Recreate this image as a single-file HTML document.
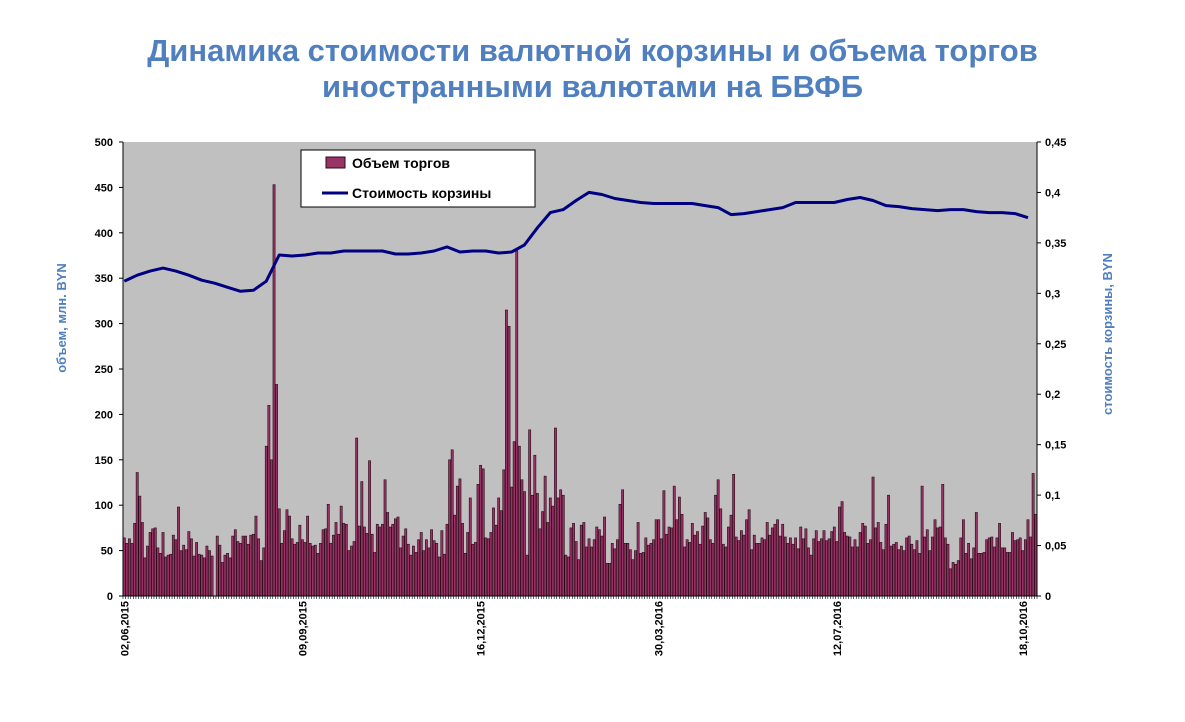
<!DOCTYPE html>
<html><head><meta charset="utf-8">
<style>
body{margin:0;background:#fff;width:1185px;height:722px;overflow:hidden;font-family:"Liberation Sans",Arial,sans-serif}
.title{position:absolute;left:0;width:1185px;text-align:center;color:#4F7FBF;font-weight:bold;font-size:31px;line-height:36px}
</style></head><body>
<div class="title" style="top:33px">Динамика стоимости валютной корзины и объема торгов<br>иностранными валютами на БВФБ</div>
<svg id="chart" width="1185" height="722" style="position:absolute;left:0;top:0"></svg>
<script>
const volumes=[64,58,63,58,80,136,110,81,42,55,70,74,75,53,47,70,43,45,46,67,62,98,50,56,51,71,63,44,59,46,45,42,55,50,44,0,66,56,37,45,47,42,66,73,60,58,66,66,57,67,68,88,63,39,53,165,210,150,453,233,96,58,72,95,88,63,57,59,78,62,59,88,58,55,56,47,58,73,74,101,58,67,81,68,99,80,79,50,55,60,174,
77,126,76,69,149,68,48,79,76,79,128,92,76,79,85,87,53,66,74,57,45,55,48,62,70,50,62,53,73,61,58,43,72,46,79,150,161,89,121,129,80,47,70,108,57,59,123,144,140,64,63,70,97,78,108,94,139,315,297,120,170,380,165,128,115,45,183,111,155,113,74,93,132,81,108,99,185,108,117,111,45,43,75,80,60,40,78,81,54,63,
54,62,76,73,66,87,36,36,58,52,62,101,117,58,58,51,40,50,81,47,48,64,56,58,62,84,84,63,116,68,76,75,121,84,109,90,54,62,59,80,67,71,57,77,92,86,62,58,111,128,96,57,54,76,89,134,65,61,72,67,84,95,51,67,58,58,64,62,81,67,75,79,84,66,79,65,58,64,57,64,52,76,63,74,53,45,63,72,60,63,72,
61,63,71,76,60,98,104,70,66,65,54,62,54,70,80,77,58,62,131,75,81,59,51,79,111,55,57,59,51,55,50,64,66,57,51,61,47,121,65,73,50,65,84,75,76,123,64,57,30,37,35,39,64,84,47,58,41,53,92,47,47,48,62,64,65,54,64,80,53,53,48,48,70,61,62,64,50,62,84,65,135,90];
const basketValues=[0.312,0.318,0.322,0.325,0.322,0.318,0.313,0.310,0.306,0.302,0.303,0.312,0.338,0.337,0.338,0.340,0.340,0.342,0.342,0.342,0.342,0.339,0.339,0.340,0.342,0.346,0.341,0.342,0.342,0.340,0.341,0.348,0.365,0.380,0.383,0.392,0.400,0.398,0.394,0.392,0.390,0.389,0.389,0.389,0.389,0.387,0.385,0.378,0.379,0.381,0.383,0.385,0.390,0.390,0.390,0.390,0.393,0.395,0.392,0.387,0.386,0.384,0.383,0.382,0.383,0.383,0.381,0.380,0.380,0.379,0.375];
const basketStep=5;
const leftTicks=[0,50,100,150,200,250,300,350,400,450,500];
const rightTicks=["0","0,05","0,1","0,15","0,2","0,25","0,3","0,35","0,4","0,45"];
const dateLabels=["02,06,2015","09,09,2015","16,12,2015","30,03,2016","12,07,2016","18,10,2016"];
const dateIdx=[0,69,138,207,276,348];

const svg=document.getElementById('chart');const NS='http://www.w3.org/2000/svg';
const X0=123,X1=1037,Y0=596,Y1=142;
const N=volumes.length,bw=(X1-X0)/N;
const xi=i=>X0+(i+0.5)*bw;
const yL=v=>Y0-v/500*(Y0-Y1);
const yR=v=>Y0-v/0.45*(Y0-Y1);
function mk(t,a,p){const e=document.createElementNS(NS,t);for(const k in a)e.setAttribute(k,a[k]);(p||svg).appendChild(e);return e;}
const bg=mk('rect',{x:X0,y:Y1,width:X1-X0,height:Y0-Y1,fill:'#C0C0C0'});


const bars=mk('g',{});


volumes.forEach((v,i)=>{const r=mk('rect',{x:X0+i*bw+0.2,y:yL(v),width:bw-0.4,height:Y0-yL(v),fill:'#993366',stroke:'#2a0a18','stroke-width':0.6},bars);

});
let d='';basketValues.forEach((v,k)=>{const i=Math.min(k*basketStep,N-1);d+=(k?'L':'M')+xi(i).toFixed(1)+' '+yR(v).toFixed(1);});
const ln=mk('path',{d:d,fill:'none',stroke:'#000080','stroke-width':3,'stroke-linejoin':'round'});


mk('line',{x1:X0,y1:Y1,x2:X0,y2:Y0,stroke:'#000'});
mk('line',{x1:X1,y1:Y1,x2:X1,y2:Y0,stroke:'#000'});
mk('line',{x1:X0,y1:Y0,x2:X1,y2:Y0,stroke:'#000'});
leftTicks.forEach(v=>{mk('line',{x1:X0-4,y1:yL(v),x2:X0,y2:yL(v),stroke:'#000'});
const t=mk('text',{x:X0-10,y:yL(v)+4,'text-anchor':'end','font-size':11,'font-weight':'bold'});t.textContent=v;

});
rightTicks.forEach((s,k)=>{const y=yR(k*0.05);mk('line',{x1:X1,y1:y,x2:X1+4,y2:y,stroke:'#000'});
const t=mk('text',{x:X1+8,y:y+4,'font-size':11,'font-weight':'bold'});t.textContent=s;

});
dateLabels.forEach((s,k)=>{const x=xi(dateIdx[k]);const t=mk('text',{x:0,y:0,transform:`translate(${x+4},${Y0+5}) rotate(-90)`,'text-anchor':'end','font-size':11,'font-weight':'bold'});t.textContent=s;

});
for(let i=0;i<=N;i++)mk('line',{x1:X0+i*bw,y1:Y0,x2:X0+i*bw,y2:Y0+3,stroke:'#000','stroke-width':0.6});
const ly=mk('text',{x:0,y:0,transform:'translate(66,318) rotate(-90)','text-anchor':'middle','font-size':13,'font-weight':'bold',fill:'#4F7FBF'});ly.textContent='объем, млн. BYN';


const ry=mk('text',{x:0,y:0,transform:'translate(1112,334) rotate(-90)','text-anchor':'middle','font-size':13,'font-weight':'bold',fill:'#4F7FBF'});ry.textContent='стоимость корзины, BYN';


const lg=mk('g',{});


mk('rect',{x:301,y:150,width:234,height:57,fill:'#fff',stroke:'#000'},lg);
mk('rect',{x:326,y:157,width:19,height:11,fill:'#993366',stroke:'#2a0a18'},lg);
const l1=mk('text',{x:352,y:168,'font-size':14,'font-weight':'bold'},lg);l1.textContent='Объем торгов';


mk('line',{x1:322,y1:193,x2:348,y2:193,stroke:'#000080','stroke-width':3},lg);
const l2=mk('text',{x:352,y:198,'font-size':14,'font-weight':'bold'},lg);l2.textContent='Стоимость корзины';


</script>
</body></html>
